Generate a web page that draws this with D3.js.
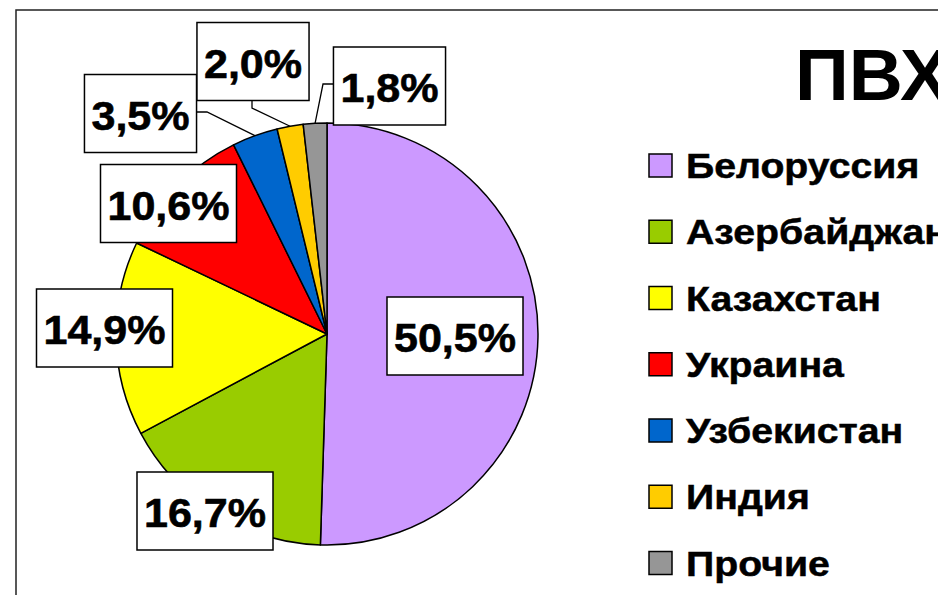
<!DOCTYPE html>
<html>
<head>
<meta charset="utf-8">
<script src="https://cdn.jsdelivr.net/npm/d3@7/dist/d3.min.js"></script>
<style>
    html, body { margin: 0; padding: 0; background: #fff; overflow: hidden; }
    text { font-family: "Liberation Sans", Arial, sans-serif; font-weight: bold; }
</style>
</head>
<body>
<svg id="chart" width="938" height="595"></svg>
<script>
// Chart data
var countries = ["Белоруссия", "Азербайджан", "Казахстан", "Украина", "Узбекистан", "Индия", "Прочие"];
var shares = [50.5, 16.7, 14.9, 10.6, 3.5, 2.0, 1.8];
var colors = ["#CC99FF", "#99CC00", "#FFFF00", "#FF0000", "#0066CC", "#FFCC00", "#969696"];
var title = "ПВХ";

// Label box centres and leader elbows (layout only)
var labelLayout = [
    { cx: 455, cy: 336 },
    { cx: 205, cy: 511 },
    { cx: 104.5, cy: 328 },
    { cx: 168.5, cy: 203.5 },
    { cx: 140.5, cy: 113.5, elbow: [207, 112], anchor: [195, 112] },
    { cx: 253, cy: 61.5, elbow: [252, 108], anchor: [252, 101] },
    { cx: 389.5, cy: 86, elbow: [323, 84], anchor: [335, 84] }
];

var svg = d3.select("#chart");
var cx = 327, cy = 334, radius = 211;

// Outer frame (runs past the right and bottom edges)
svg.append("rect")
    .attr("x", 16).attr("y", 10)
    .attr("width", 960).attr("height", 620)
    .attr("fill", "none")
    .attr("stroke", "#222")
    .attr("stroke-width", 1.5);

var data = countries.map(function(c, i) { return { name: c, value: shares[i], color: colors[i] }; });

var pie = d3.pie().sort(null).value(function(d) { return d.value; });
var arc = d3.arc().innerRadius(0).outerRadius(radius);

var arcs = pie(data);

var g = svg.append("g").attr("transform", "translate(" + cx + "," + cy + ")");

g.selectAll("path.slice")
    .data(arcs)
    .enter().append("path")
    .attr("class", "slice")
    .attr("d", arc)
    .attr("fill", function(d) { return d.data.color; })
    .attr("stroke", "#000")
    .attr("stroke-width", 1.5)
    .attr("stroke-linejoin", "round");

// Leader lines for the small slices
arcs.forEach(function(d, i) {
    var lay = labelLayout[i];
    if (!lay.elbow) return;
    var mid = (d.startAngle + d.endAngle) / 2;
    var p = [cx + radius * Math.sin(mid), cy - radius * Math.cos(mid)];
    svg.append("polyline")
        .attr("points", [p, lay.elbow, lay.anchor].map(function(q) { return q.join(","); }).join(" "))
        .attr("fill", "none")
        .attr("stroke", "#000")
        .attr("stroke-width", 1.3);
});

// Percent labels in white boxes
arcs.forEach(function(d, i) {
    var lay = labelLayout[i];
    var lg = svg.append("g");
    var box = lg.append("rect");
    var txt = lg.append("text")
        .attr("transform", "translate(" + lay.cx + "," + (lay.cy + 16) + ") scale(1.05,1)")
        .attr("text-anchor", "middle")
        .attr("font-size", 41)
        .attr("fill", "#000")
        .attr("stroke", "#000")
        .attr("stroke-width", 0.6)
        .text(d3.format(".1f")(d.data.value).replace(".", ",") + "%");
    var w = txt.node().getComputedTextLength() * 1.05 + 14;
    var h = 78;
    box.attr("x", lay.cx - w / 2)
        .attr("y", lay.cy - h / 2)
        .attr("width", w)
        .attr("height", h)
        .attr("fill", "#fff")
        .attr("stroke", "#000")
        .attr("stroke-width", 1.5);
});

// Title
svg.append("text")
    .attr("transform", "translate(795,100) scale(1.04,1)")
    .attr("font-size", 72)
    .attr("fill", "#000")
    .text(title);

// Legend
var legend = svg.selectAll("g.legend")
    .data(data)
    .enter().append("g")
    .attr("class", "legend")
    .attr("transform", function(d, i) { return "translate(649," + (165.5 + i * 66.25) + ")"; });

legend.append("rect")
    .attr("x", 0).attr("y", -11.5)
    .attr("width", 23).attr("height", 23)
    .attr("fill", function(d) { return d.color; })
    .attr("stroke", "#000")
    .attr("stroke-width", 1.5);

legend.append("text")
    .attr("transform", "translate(37,12.5) scale(1.09,1)")
    .attr("font-size", 36)
    .attr("fill", "#000")
    .attr("stroke", "#000")
    .attr("stroke-width", 0.5)
    .text(function(d) { return d.name; });
</script>
</body>
</html>
